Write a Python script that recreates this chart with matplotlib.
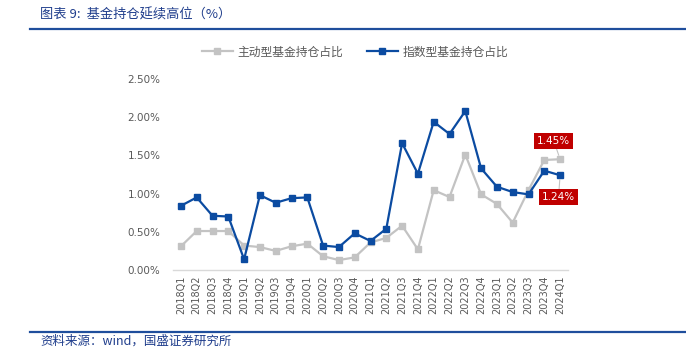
import matplotlib
matplotlib.use("Agg")
import matplotlib.pyplot as plt
from matplotlib.ticker import FuncFormatter

plt.rcParams['font.family'] = ['Noto Sans CJK SC', 'DejaVu Sans']

quarters = ["2018Q1","2018Q2","2018Q3","2018Q4","2019Q1","2019Q2","2019Q3","2019Q4",
            "2020Q1","2020Q2","2020Q3","2020Q4","2021Q1","2021Q2","2021Q3","2021Q4",
            "2022Q1","2022Q2","2022Q3","2022Q4","2023Q1","2023Q2","2023Q3","2023Q4","2024Q1"]
active = [0.31, 0.51, 0.51, 0.51, 0.32, 0.30, 0.25, 0.31,
          0.345, 0.18, 0.13, 0.165, 0.36, 0.42, 0.58, 0.27,
          1.045, 0.955, 1.51, 0.99, 0.865, 0.62, 1.045, 1.44, 1.45]
index_f = [0.84, 0.95, 0.71, 0.70, 0.14, 0.98, 0.88, 0.94,
           0.95, 0.32, 0.30, 0.48, 0.38, 0.54, 1.66, 1.26,
           1.94, 1.78, 2.08, 1.33, 1.09, 1.02, 0.99, 1.30, 1.24]
series_names = ["主动型基金持仓占比", "指数型基金持仓占比"]
yticks = [0.0, 0.5, 1.0, 1.5, 2.0, 2.5]

gray = "#C3C3C3"
blue = "#0B4BA1"
red = "#C00000"

fig = plt.figure(figsize=(6.86, 3.64), dpi=100)
ax = fig.add_axes([173/686, 1-270/364, 395/686, 191/364])

x = list(range(len(quarters)))
ax.plot(x, active, color=gray, lw=1.6, marker='s', ms=4.5, label=series_names[0], zorder=2)
ax.plot(x, index_f, color=blue, lw=1.6, marker='s', ms=5, label=series_names[1], zorder=3)

ax.set_xlim(-0.5, len(quarters) - 0.5)
ax.set_ylim(0, 2.5)
ax.set_yticks(yticks)
ax.yaxis.set_major_formatter(FuncFormatter(lambda v, p: f"{v:.2f}%"))
ax.set_xticks(x)
ax.set_xticklabels(quarters, rotation=90, family='DejaVu Sans')
for lab in ax.get_yticklabels():
    lab.set_family('DejaVu Sans')
ax.tick_params(axis='both', length=0, colors='#595959')
ax.tick_params(axis='x', labelsize=7, pad=4)
ax.tick_params(axis='y', labelsize=7.5, pad=9)
for s in ['top', 'right', 'left']:
    ax.spines[s].set_visible(False)
ax.spines['bottom'].set_color('#D9D9D9')
ax.spines['bottom'].set_linewidth(1)

# data labels
last = len(quarters) - 1
ax.annotate(f"{active[last]:.2f}%", xy=(last, active[last]), xytext=(last - 0.4, active[last] + 0.24),
            ha='center', va='center', color='white', fontsize=7.5, family='DejaVu Sans',
            bbox=dict(boxstyle='square,pad=0.3', fc=red, ec='none'),
            arrowprops=dict(arrowstyle='-', color=gray, lw=0.8, shrinkA=0, shrinkB=3), zorder=5)
ax.annotate(f"{index_f[last]:.2f}%", xy=(last, index_f[last]), xytext=(last - 0.1, index_f[last] - 0.285),
            ha='center', va='center', color='white', fontsize=7.5, family='DejaVu Sans',
            bbox=dict(boxstyle='square,pad=0.3', fc=red, ec='none'),
            arrowprops=dict(arrowstyle='-', color=gray, lw=0.8, shrinkA=0, shrinkB=3), zorder=5)

leg = fig.legend(loc='center', bbox_to_anchor=(355/686, 1-52/364), ncol=2, frameon=False,
                 fontsize=8.5, handlelength=2.6, columnspacing=2.0, handletextpad=0.4)
for t in leg.get_texts():
    t.set_color('#595959')

title_color = "#1F3D8C"
fig.text(40/686, 1-15/364, "图表 9:  基金持仓延续高位（%）", fontsize=9.5, color=title_color,
         style='italic', va='center', ha='left')
fig.add_artist(plt.Line2D([30/686, 1.0], [1-28.5/364, 1-28.5/364], color="#1F4E9C", lw=1.6))
fig.add_artist(plt.Line2D([30/686, 1.0], [1-332/364, 1-332/364], color="#1F4E9C", lw=1.6))
fig.text(40/686, 1-341/364, "资料来源：wind，国盛证券研究所", fontsize=9, color=title_color,
         style='italic', va='center', ha='left')

fig.savefig("out.png", dpi=100)
